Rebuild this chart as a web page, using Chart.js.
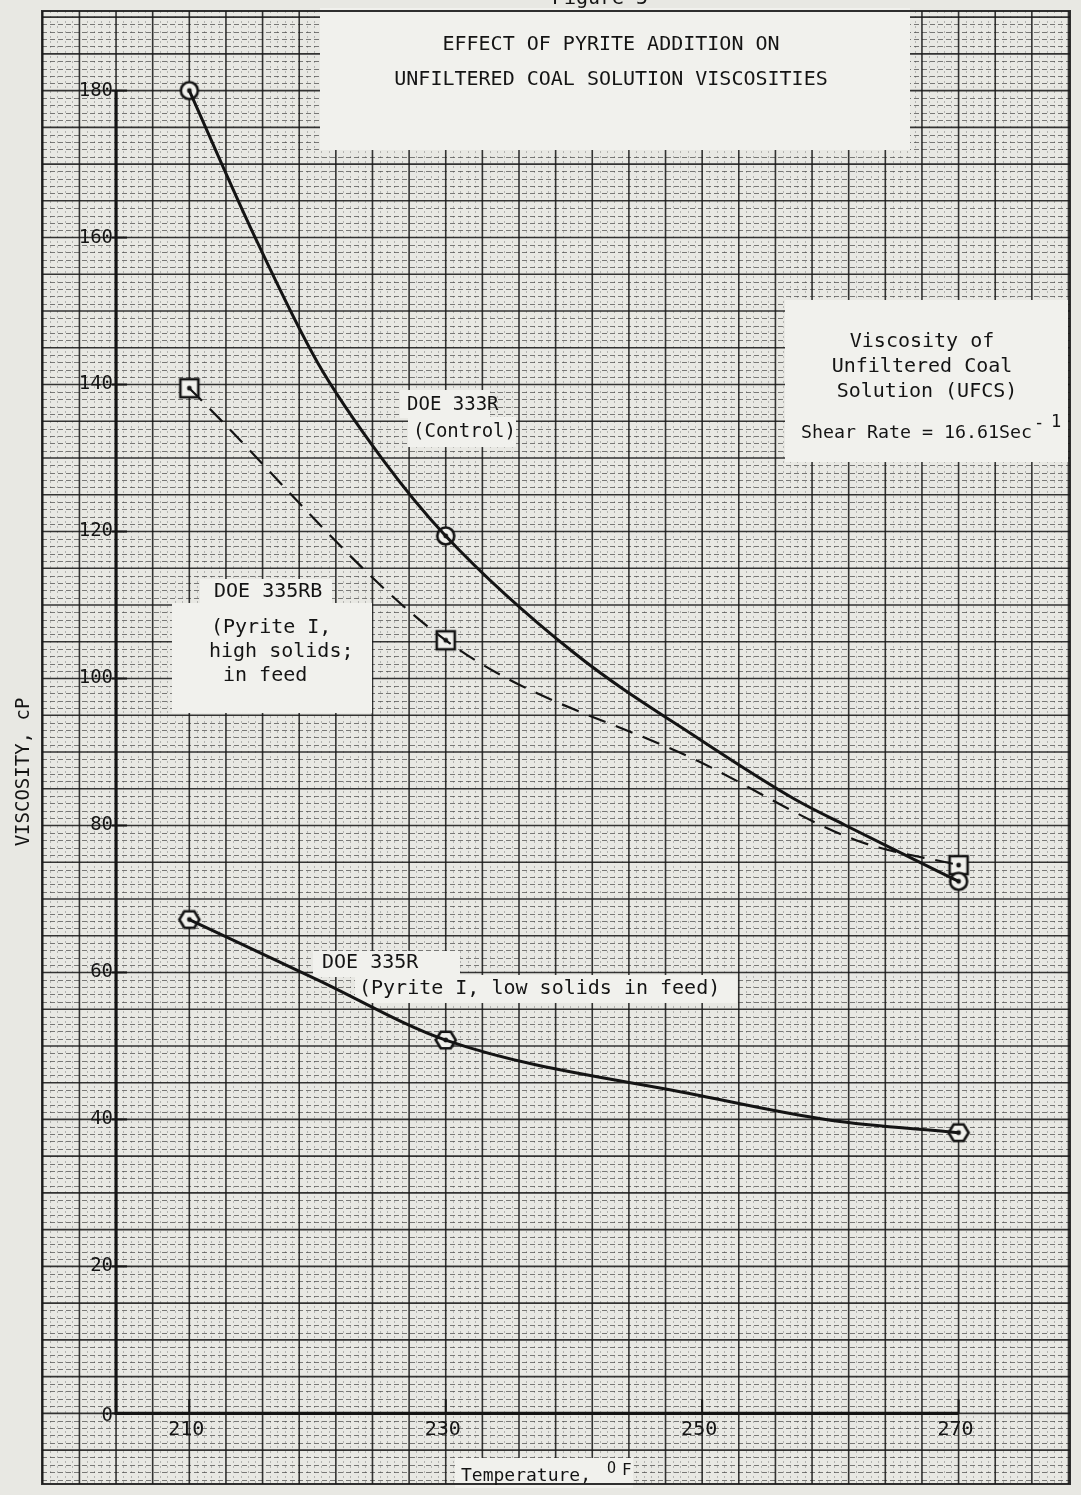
<!DOCTYPE html>
<html>
<head>
<meta charset="utf-8">
<title>Figure 5 - Effect of pyrite addition on UFCS viscosities</title>
<script src="https://cdn.jsdelivr.net/npm/chart.js@4.4.1/dist/chart.umd.min.js"></script>
<style>
  html, body { margin: 0; padding: 0; background: #e8e8e3; }
  #wrap { width: 1081px; height: 1495px; }
</style>
</head>
<body>
<div id="wrap"><canvas id="fig" width="1081" height="1495"></canvas></div>
<script>
// plotted samples (temperature in F, viscosity in cP)
const temps = [210, 230, 270];
const visc333R = [180, 119.4, 72.4];
const visc335RB = [139.5, 105.2, 74.6];
const visc335R = [67.2, 50.8, 38.2];

// the hand drawn curves
const curve333R_T = [210, 215, 220, 225, 230, 240, 250, 257.3, 261.2, 265.1, 270];
const curve333R_V = [180, 160.5, 143.0, 130.0, 119.4, 103.5, 91.5, 83.5, 80.0, 76.6, 72.4];
const curve335RB_T = [210, 230, 250, 262, 270];
const curve335RB_V = [139.5, 105.2, 88.5, 78.0, 74.6];
const curve335R_T = [210, 220, 230, 250, 260, 270];
const curve335R_V = [67.2, 59.0, 50.8, 43.2, 39.9, 38.2];

const xTicks = [210, 230, 250, 270];
const yTicks = [0, 20, 40, 60, 80, 100, 120, 140, 160, 180];

// paper / axis geometry
const X_MIN = 198.51, X_MAX = 278.69;
const Y_MIN = -9.61, Y_MAX = 190.83;
const X_AXIS = 210 - 2 * (60 / 21);   // vertical axis sits two squares left of 210
const X_MAJOR = 60 / 21, Y_MAJOR = 5;

const INK = '#141414';
const PAPER = '#e8e8e3';
const PATCH = '#f1f1ed';
const MONO = '"DejaVu Sans Mono", "Liberation Mono", monospace';

// white paste-over patches [x, y, w, h]
const patches = [
  [320, 8, 590, 142],
  [785, 300, 283, 162],
  [400, 390, 90, 28],
  [408, 417, 108, 30],
  [200, 579, 132, 25],
  [172, 603, 200, 110],
  [313, 951, 147, 26],
  [355, 975, 382, 28],
  [455, 1458, 178, 30]
];

function makeMarker(kind) {
  const c = document.createElement('canvas');
  c.width = 26; c.height = 26;
  const g = c.getContext('2d');
  g.strokeStyle = INK; g.lineWidth = 2.6; g.fillStyle = PATCH;
  g.beginPath();
  if (kind === 'square') {
    g.rect(4, 4, 18, 18);
  } else if (kind === 'hex') {
    for (let i = 0; i < 6; i++) {
      const a = i * Math.PI / 3;
      const px = 13 + 10 * Math.cos(a), py = 13 + 9.5 * Math.sin(a);
      if (i === 0) g.moveTo(px, py); else g.lineTo(px, py);
    }
    g.closePath();
  } else {
    g.arc(13, 13, 8.5, 0, Math.PI * 2);
  }
  g.fill(); g.stroke();
  g.beginPath(); g.arc(13, 13, 2.4, 0, Math.PI * 2);
  g.fillStyle = INK; g.fill();
  return c;
}

function text(ctx, s, x, y, size, align) {
  ctx.font = size + 'px ' + MONO;
  ctx.textAlign = align || 'left';
  ctx.fillText(s, x, y);
}

const paperGrid = {
  id: 'paperGrid',
  beforeDraw(chart) {
    const { ctx, width, height } = chart;
    ctx.save();
    ctx.fillStyle = PAPER;
    ctx.fillRect(0, 0, width, height);
    ctx.restore();
  },
  beforeDatasetsDraw(chart) {
    const { ctx, chartArea: a, scales: { x, y } } = chart;
    ctx.save();
    ctx.beginPath();
    ctx.rect(a.left, a.top, a.right - a.left, a.bottom - a.top);
    ctx.clip();

    const xMinor = X_MAJOR / 5;
    const k0 = Math.ceil((X_MIN - X_AXIS) / xMinor), k1 = Math.floor((X_MAX - X_AXIS) / xMinor);
    const j0 = Math.ceil(Y_MIN), j1 = Math.floor(Y_MAX);

    // fine rulings
    ctx.lineWidth = 1;
    ctx.strokeStyle = 'rgba(70,70,70,0.32)';
    ctx.setLineDash([2, 3]);
    for (let k = k0; k <= k1; k++) {
      if (((k % 5) + 5) % 5 === 0) continue;
      const px = Math.round(x.getPixelForValue(X_AXIS + k * xMinor)) + 0.5;
      ctx.beginPath(); ctx.moveTo(px, a.top); ctx.lineTo(px, a.bottom); ctx.stroke();
    }
    ctx.strokeStyle = 'rgba(45,45,45,0.6)';
    ctx.lineWidth = 1.2;
    ctx.setLineDash([5, 3]);
    for (let j = j0; j <= j1; j++) {
      if (j % Y_MAJOR === 0) continue;
      const py = Math.round(y.getPixelForValue(j)) + 0.5;
      ctx.beginPath(); ctx.moveTo(a.left, py); ctx.lineTo(a.right, py); ctx.stroke();
    }

    // heavy rulings
    ctx.setLineDash([]);
    ctx.strokeStyle = 'rgba(25,25,25,0.88)';
    ctx.lineWidth = 1.6;
    for (let k = k0; k <= k1; k++) {
      if (((k % 5) + 5) % 5 !== 0) continue;
      const px = x.getPixelForValue(X_AXIS + k * xMinor);
      ctx.beginPath(); ctx.moveTo(px, a.top); ctx.lineTo(px, a.bottom); ctx.stroke();
    }
    for (let j = j0; j <= j1; j++) {
      if (j % Y_MAJOR !== 0) continue;
      const py = y.getPixelForValue(j);
      ctx.beginPath(); ctx.moveTo(a.left, py); ctx.lineTo(a.right, py); ctx.stroke();
    }
    ctx.restore();

    ctx.save();
    // paste-over label patches
    ctx.fillStyle = PATCH;
    patches.forEach(p => ctx.fillRect(p[0], p[1], p[2], p[3]));

    // paper edge
    ctx.strokeStyle = 'rgba(25,25,25,0.9)';
    ctx.lineWidth = 2;
    ctx.strokeRect(a.left, a.top, a.right - a.left, a.bottom - a.top);

    // axes
    const ax = x.getPixelForValue(X_AXIS);
    const y0 = y.getPixelForValue(0);
    ctx.strokeStyle = INK;
    ctx.lineWidth = 3.2;
    ctx.beginPath();
    ctx.moveTo(ax, y.getPixelForValue(yTicks[yTicks.length - 1]));
    ctx.lineTo(ax, y0);
    ctx.lineTo(x.getPixelForValue(xTicks[xTicks.length - 1]), y0);
    ctx.stroke();

    ctx.lineWidth = 2;
    ctx.fillStyle = INK;
    ctx.textBaseline = 'middle';
    yTicks.forEach(v => {
      const py = y.getPixelForValue(v);
      ctx.beginPath(); ctx.moveTo(ax - 4, py); ctx.lineTo(ax + 11, py); ctx.stroke();
      text(ctx, String(v), ax - 3, py + (v === 0 ? 3 : 0), 19, 'right');
    });
    ctx.textBaseline = 'top';
    xTicks.forEach(v => {
      const px = x.getPixelForValue(v);
      ctx.beginPath(); ctx.moveTo(px, y0); ctx.lineTo(px, y0 - 14); ctx.stroke();
      text(ctx, String(v), px - 3, y0 + 6, 20, 'center');
    });

    // captions
    ctx.textBaseline = 'alphabetic';
    text(ctx, 'Figure 5', 600, 4, 20, 'center');
    ctx.textBaseline = 'middle';
    text(ctx, 'EFFECT OF PYRITE ADDITION ON', 611, 45, 20, 'center');
    text(ctx, 'UNFILTERED COAL SOLUTION VISCOSITIES', 611, 80, 20, 'center');

    text(ctx, 'Viscosity of', 922, 342, 20, 'center');
    text(ctx, 'Unfiltered Coal', 922, 367, 20, 'center');
    text(ctx, 'Solution (UFCS)', 927, 392, 20, 'center');
    text(ctx, 'Shear Rate = 16.61Sec', 801, 433, 18.3, 'left');
    text(ctx, '-', 1034, 424, 17, 'left');
    text(ctx, '1', 1051, 423, 17, 'left');

    text(ctx, 'DOE 333R', 407, 405, 19, 'left');
    text(ctx, '(Control)', 413, 432, 19, 'left');

    text(ctx, 'DOE 335RB', 214, 592, 20, 'left');
    text(ctx, '(Pyrite I,', 211, 628, 20, 'left');
    text(ctx, 'high solids;', 209, 652, 20, 'left');
    text(ctx, 'in feed', 223, 676, 20, 'left');

    text(ctx, 'DOE 335R', 322, 963, 20, 'left');
    text(ctx, '(Pyrite I, low solids in feed)', 359, 989, 20, 'left');

    text(ctx, 'Temperature,', 461, 1476, 18, 'left');
    text(ctx, 'O', 607, 1469, 15, 'left');
    text(ctx, 'F', 622, 1471, 16, 'left');

    ctx.translate(24, 772);
    ctx.rotate(-Math.PI / 2);
    text(ctx, 'VISCOSITY, cP', 0, 0, 19, 'center');
    ctx.restore();
  }
};

const pts = (xs, ys) => xs.map((t, i) => ({ x: t, y: ys[i] }));

const curveStyle = {
  borderColor: INK, pointRadius: 0, fill: false,
  cubicInterpolationMode: 'monotone'
};
const markerStyle = { showLine: false, pointRadius: 10, pointHoverRadius: 10 };

new Chart(document.getElementById('fig'), {
  type: 'line',
  data: {
    datasets: [
      { label: 'DOE 333R (Control)', data: pts(curve333R_T, curve333R_V), borderWidth: 3, ...curveStyle },
      { label: 'DOE 335RB (Pyrite I, high solids in feed)', data: pts(curve335RB_T, curve335RB_V), borderWidth: 2.2, borderDash: [18, 11], ...curveStyle },
      { label: 'DOE 335R (Pyrite I, low solids in feed)', data: pts(curve335R_T, curve335R_V), borderWidth: 3, ...curveStyle },
      { label: 'DOE 333R points', data: pts(temps, visc333R), pointStyle: makeMarker('circle'), ...markerStyle },
      { label: 'DOE 335RB points', data: pts(temps, visc335RB), pointStyle: makeMarker('square'), ...markerStyle },
      { label: 'DOE 335R points', data: pts(temps, visc335R), pointStyle: makeMarker('hex'), ...markerStyle }
    ]
  },
  options: {
    responsive: false,
    animation: false,
    events: [],
    layout: { padding: { left: 42, top: 7, right: 6, bottom: 7 } },
    scales: {
      x: { type: 'linear', min: X_MIN, max: X_MAX, display: false },
      y: { type: 'linear', min: Y_MIN, max: Y_MAX, display: false }
    },
    plugins: { legend: { display: false }, tooltip: { enabled: false } }
  },
  plugins: [paperGrid]
});
</script>
</body>
</html>
